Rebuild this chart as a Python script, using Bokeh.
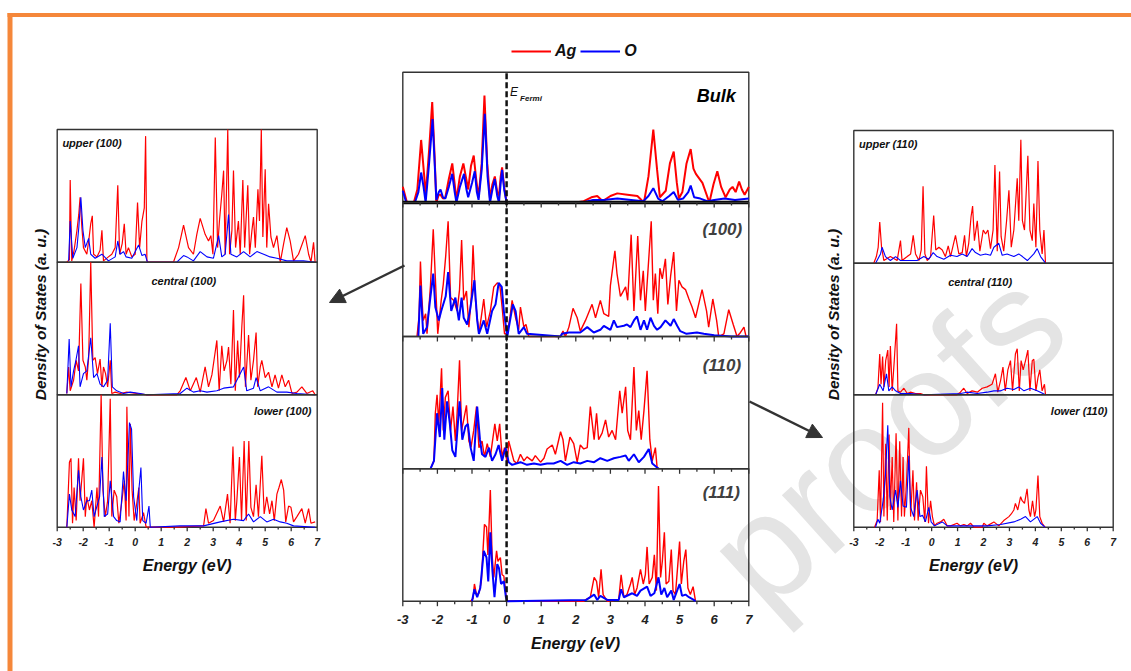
from bokeh.plotting import figure
from bokeh.models import Range1d, Arrow, NormalHead, Label, Legend, LegendItem, BoxAnnotation
from bokeh.core.properties import value
from bokeh.embed import file_html
from bokeh.resources import INLINE

# ---------------- data (energy in eV, DOS in arbitrary units 0-100) ----------------
E_TICKS = [-3, -2, -1, 0, 1, 2, 3, 4, 5, 6, 7]
E_TICK_LABELS = ["-3", "-2", "-1", "0", "1", "2", "3", "4", "5", "6", "7"]
E_MINOR = [-2.5, -1.5, -0.5, 0.5, 1.5, 2.5, 3.5, 4.5, 5.5, 6.5]
SERIES = ["Ag", "O"]

BULK_AG = [(-3.0,12),(-2.88,0),(-2.68,0),(-2.58,10),(-2.47,48),(-2.38,20),(-2.34,5),(-2.24,40),(-2.15,77),(-2.08,35),(-2.03,0),(-1.96,6),(-1.91,6),(-1.84,3),(-1.77,4),(-1.67,18),(-1.57,30),(-1.5,14),(-1.45,2),(-1.35,20),(-1.25,30),(-1.18,20),(-1.11,10),(-1.03,28),(-0.95,36),(-0.88,18),(-0.81,4),(-0.72,30),(-0.64,82),(-0.56,30),(-0.48,3),(-0.41,14),(-0.34,20),(-0.27,8),(-0.22,5),(-0.17,20),(-0.13,27),(-0.07,12),(0.0,0),(2.0,0),(2.23,1),(2.45,4),(2.62,5),(2.78,1),(3.0,5),(3.2,7),(3.49,6),(3.78,5),(3.97,0),(4.1,20),(4.24,56),(4.35,25),(4.43,4),(4.6,9),(4.72,30),(4.83,39),(4.92,15),(4.98,3),(5.08,8),(5.2,30),(5.32,41),(5.4,26),(5.47,22),(5.66,15),(5.86,0),(5.98,14),(6.09,24),(6.2,12),(6.33,4),(6.45,10),(6.53,12),(6.62,8),(6.72,16),(6.8,10),(6.88,6),(7.0,12)]
BULK_O = [(-3.0,9),(-2.9,0),(-2.65,0),(-2.55,8),(-2.47,23),(-2.4,12),(-2.34,0),(-2.24,30),(-2.14,64),(-2.07,25),(-2.03,2),(-1.96,8),(-1.91,10),(-1.84,4),(-1.77,3),(-1.67,12),(-1.57,22),(-1.5,8),(-1.45,0),(-1.35,12),(-1.23,22),(-1.16,10),(-1.11,4),(-1.0,15),(-0.92,24),(-0.86,8),(-0.81,2),(-0.72,25),(-0.63,68),(-0.55,20),(-0.48,0),(-0.41,10),(-0.34,18),(-0.27,5),(-0.22,0),(-0.17,15),(-0.13,25),(-0.07,10),(0.0,0),(2.2,0),(2.5,2),(2.8,2),(3.2,3),(3.6,2),(3.95,1),(4.1,5),(4.24,11),(4.38,3),(4.5,1),(4.7,5),(4.83,8),(4.95,2),(5.1,3),(5.25,8),(5.32,13),(5.42,4),(5.6,3),(5.8,1),(6.0,2),(6.3,3),(6.6,2),(7.0,3)]

C100_AG = [(-2.59,0),(-2.53,15),(-2.49,56),(-2.45,30),(-2.41,12),(-2.34,17),(-2.3,2),(-2.25,20),(-2.2,38),(-2.12,80),(-2.06,44),(-1.99,2),(-1.89,27),(-1.83,39),(-1.76,60),(-1.69,86),(-1.62,29),(-1.53,27),(-1.43,19),(-1.36,35),(-1.3,72),(-1.24,27),(-1.16,34),(-1.09,7),(-1.02,30),(-0.97,68),(-0.9,27),(-0.8,2),(-0.66,28),(-0.58,7),(-0.47,19),(-0.37,37),(-0.27,40),(-0.2,39),(-0.13,22),(-0.06,2),(0.02,2),(0.1,15),(0.16,27),(0.26,14),(0.35,5),(0.4,22),(0.5,7),(0.56,9),(0.64,0),(1.56,0),(1.63,4),(1.7,0),(1.8,7),(1.92,21),(2.04,14),(2.13,4),(2.28,12),(2.47,24),(2.57,14),(2.71,27),(2.81,17),(2.95,15),(3.0,38),(3.13,64),(3.19,47),(3.29,30),(3.44,37),(3.5,27),(3.6,76),(3.68,19),(3.79,75),(3.87,27),(3.95,49),(4.01,19),(4.06,39),(4.18,86),(4.24,27),(4.3,47),(4.37,17),(4.43,51),(4.5,43),(4.59,58),(4.66,24),(4.74,45),(4.83,63),(4.91,19),(4.98,42),(5.07,37),(5.17,35),(5.27,28),(5.36,22),(5.46,14),(5.65,35),(5.78,19),(5.84,7),(5.96,28),(6.07,12),(6.13,0),(6.28,2),(6.42,20),(6.55,9),(6.66,0),(6.76,3),(6.86,7),(6.92,0)]
C100_O = [(-2.55,0),(-2.49,38),(-2.41,2),(-2.3,7),(-2.2,30),(-2.12,47),(-2.06,22),(-1.96,12),(-1.89,19),(-1.76,30),(-1.69,48),(-1.6,19),(-1.48,29),(-1.38,12),(-1.3,29),(-1.24,14),(-1.14,9),(-1.06,19),(-0.93,42),(-0.85,12),(-0.8,2),(-0.66,12),(-0.56,2),(-0.42,19),(-0.32,24),(-0.23,40),(-0.14,37),(-0.08,19),(0.02,0),(0.18,24),(0.26,19),(0.35,2),(0.5,7),(0.59,2),(1.56,0),(1.6,2),(1.8,3),(2.13,3),(2.33,7),(2.52,3),(2.71,5),(2.81,8),(3.0,5),(3.1,12),(3.19,7),(3.39,8),(3.48,9),(3.58,7),(3.68,12),(3.77,15),(3.87,5),(3.97,12),(4.06,5),(4.16,14),(4.26,8),(4.35,5),(4.45,7),(4.59,12),(4.74,8),(4.83,13),(4.93,8),(5.02,4),(5.2,2),(5.5,3),(5.7,2),(6.0,1),(6.5,0),(7.0,0)]

C110_AG = [(-2.2,0),(-2.1,6),(-2.06,42),(-2.01,56),(-1.96,34),(-1.88,76),(-1.83,29),(-1.77,54),(-1.69,59),(-1.62,29),(-1.55,47),(-1.48,21),(-1.43,42),(-1.36,82),(-1.3,29),(-1.24,37),(-1.16,48),(-1.09,21),(-1.03,16),(-0.95,29),(-0.87,47),(-0.8,16),(-0.71,21),(-0.64,9),(-0.56,19),(-0.47,9),(-0.34,34),(-0.27,21),(-0.2,34),(-0.13,9),(-0.06,16),(0.02,4),(0.06,21),(0.13,14),(0.21,6),(0.3,4),(0.4,11),(0.5,6),(0.59,9),(0.74,6),(0.83,10),(0.98,5),(1.08,8),(1.17,15),(1.32,18),(1.41,11),(1.56,28),(1.63,22),(1.7,6),(1.83,24),(1.94,19),(2.04,5),(2.13,18),(2.23,15),(2.33,16),(2.42,47),(2.53,22),(2.6,42),(2.66,22),(2.76,27),(2.86,37),(2.95,24),(3.05,29),(3.15,22),(3.27,59),(3.34,42),(3.44,62),(3.5,29),(3.58,22),(3.68,77),(3.75,29),(3.82,44),(3.89,22),(3.97,44),(4.06,74),(4.14,22),(4.21,6),(4.3,16),(4.35,1),(4.4,0)]
C110_O = [(-2.2,0),(-2.1,6),(-2.01,42),(-1.93,24),(-1.86,61),(-1.8,22),(-1.72,51),(-1.64,34),(-1.57,14),(-1.48,9),(-1.36,51),(-1.28,22),(-1.19,32),(-1.12,34),(-1.04,16),(-0.95,6),(-0.85,47),(-0.77,22),(-0.71,11),(-0.61,9),(-0.51,16),(-0.42,6),(-0.32,11),(-0.23,18),(-0.13,6),(-0.03,16),(0.06,5),(0.16,3),(0.4,5),(0.59,3),(0.79,4),(0.98,3),(1.17,4),(1.36,4),(1.56,6),(1.75,3),(1.94,5),(2.13,4),(2.33,6),(2.53,5),(2.71,8),(2.91,6),(3.1,8),(3.29,9),(3.44,10),(3.53,6),(3.68,11),(3.82,5),(3.97,9),(4.11,15),(4.21,4),(4.35,1),(4.4,0)]

C111_AG = [(-1.04,0),(-0.97,2),(-0.93,13),(-0.87,5),(-0.8,6),(-0.73,15),(-0.64,58),(-0.58,56),(-0.54,35),(-0.47,84),(-0.42,35),(-0.37,18),(-0.29,38),(-0.25,30),(-0.18,33),(-0.13,20),(-0.08,19),(-0.02,5),(0.02,0),(2.23,0),(2.28,1),(2.42,3),(2.53,18),(2.6,15),(2.66,3),(2.73,24),(2.79,5),(2.91,0),(3.24,1),(3.31,20),(3.39,3),(3.48,5),(3.58,13),(3.63,18),(3.7,5),(3.77,10),(3.87,24),(3.95,13),(4.01,20),(4.06,41),(4.12,13),(4.21,18),(4.27,35),(4.33,8),(4.39,87),(4.45,18),(4.5,30),(4.56,52),(4.61,13),(4.69,15),(4.76,39),(4.81,8),(4.88,5),(5.0,45),(5.05,13),(5.12,30),(5.18,39),(5.24,10),(5.31,5),(5.39,11),(5.46,0)]
C111_O = [(-1.0,0),(-0.93,9),(-0.85,3),(-0.76,10),(-0.66,38),(-0.58,33),(-0.53,15),(-0.47,52),(-0.41,23),(-0.35,3),(-0.27,28),(-0.22,25),(-0.16,13),(-0.08,15),(-0.02,3),(0.02,0),(2.3,1),(2.53,5),(2.62,1),(2.71,4),(2.91,1),(3.24,1),(3.31,9),(3.39,3),(3.63,6),(3.77,4),(3.87,8),(4.06,11),(4.16,4),(4.27,6),(4.39,18),(4.47,5),(4.56,10),(4.64,3),(4.76,8),(4.83,1),(5.0,13),(5.07,4),(5.17,5),(5.27,3),(5.41,1),(5.46,0)]

UP100_AG = [(-2.63,0),(-2.53,2),(-2.5,62),(-2.44,1),(-2.35,9),(-2.24,24),(-2.17,36),(-2.12,49),(-2.05,26),(-1.99,11),(-1.86,6),(-1.77,19),(-1.71,29),(-1.65,35),(-1.6,6),(-1.47,4),(-1.35,9),(-1.28,24),(-1.22,1),(-1.03,4),(-0.9,6),(-0.77,11),(-0.67,58),(-0.6,6),(-0.5,14),(-0.42,29),(-0.35,6),(-0.26,11),(-0.13,4),(0.0,6),(0.09,45),(0.17,11),(0.26,31),(0.35,41),(0.4,95),(0.45,1),(0.51,0),(1.47,0),(1.67,11),(1.86,28),(2.05,11),(2.24,6),(2.37,21),(2.5,33),(2.69,21),(2.82,16),(2.91,20),(2.99,6),(3.08,94),(3.17,11),(3.24,31),(3.33,51),(3.4,69),(3.46,6),(3.56,100),(3.63,6),(3.72,24),(3.78,69),(3.86,11),(3.97,31),(4.04,6),(4.14,62),(4.21,11),(4.33,58),(4.4,6),(4.49,24),(4.55,34),(4.62,11),(4.72,55),(4.78,31),(4.85,100),(4.91,19),(5.0,70),(5.06,11),(5.13,44),(5.22,19),(5.32,11),(5.45,20),(5.58,0),(5.71,14),(5.83,26),(5.96,16),(6.09,1),(6.28,6),(6.54,20),(6.67,6),(6.76,0),(6.86,15),(6.92,0)]
UP100_O = [(-2.56,1),(-2.5,31),(-2.4,3),(-2.24,11),(-2.17,26),(-2.09,49),(-2.01,24),(-1.92,11),(-1.79,18),(-1.71,6),(-1.54,3),(-1.28,6),(-1.03,1),(-0.77,4),(-0.67,16),(-0.58,6),(-0.45,8),(-0.35,4),(-0.13,3),(0.13,13),(0.26,5),(0.38,6),(0.47,0),(1.6,0),(1.86,5),(1.99,4),(2.24,1),(2.5,8),(2.76,4),(3.01,3),(3.21,20),(3.33,4),(3.46,6),(3.59,36),(3.68,6),(3.91,4),(4.17,8),(4.42,4),(4.68,8),(4.94,6),(5.19,4),(5.45,3),(5.83,1),(6.47,1),(6.92,0)]

CE100_AG = [(-2.63,1),(-2.56,21),(-2.5,3),(-2.37,11),(-2.27,26),(-2.18,18),(-2.09,84),(-2.01,26),(-1.92,21),(-1.86,11),(-1.79,28),(-1.71,100),(-1.63,26),(-1.54,28),(-1.45,16),(-1.35,27),(-1.28,6),(-1.22,21),(-1.14,16),(-1.06,6),(-0.96,26),(-0.9,1),(-0.77,2),(-0.58,1),(-0.32,2),(0.06,1),(0.45,0),(1.6,0),(1.73,3),(1.95,13),(2.12,3),(2.35,13),(2.5,2),(2.69,21),(2.82,6),(2.95,15),(3.14,41),(3.23,3),(3.33,37),(3.42,18),(3.53,26),(3.59,36),(3.68,8),(3.78,64),(3.85,3),(3.94,41),(4.01,13),(4.1,51),(4.17,75),(4.24,6),(4.36,45),(4.45,11),(4.55,26),(4.65,47),(4.71,6),(4.81,21),(4.87,26),(5.0,13),(5.13,17),(5.26,6),(5.38,15),(5.51,5),(5.64,15),(5.77,6),(5.9,11),(6.03,1),(6.22,2),(6.41,6),(6.6,1),(6.83,3),(6.92,0)]
CE100_O = [(-2.63,1),(-2.54,42),(-2.47,6),(-2.37,18),(-2.28,26),(-2.18,37),(-2.12,6),(-1.99,16),(-1.86,18),(-1.71,43),(-1.6,13),(-1.47,16),(-1.35,8),(-1.22,6),(-1.06,11),(-0.96,54),(-0.88,6),(-0.71,3),(-0.45,1),(-0.19,2),(0.19,1),(0.45,0),(1.73,1),(1.99,5),(2.24,2),(2.5,3),(2.76,2),(3.14,3),(3.4,5),(3.78,6),(4.17,21),(4.29,3),(4.55,5),(4.65,13),(4.81,3),(5.13,6),(5.45,2),(5.83,2),(6.22,1),(6.92,0)]

LO100_AG = [(-2.63,0),(-2.53,49),(-2.47,52),(-2.41,3),(-2.35,30),(-2.27,5),(-2.18,52),(-2.12,20),(-1.99,52),(-1.92,8),(-1.86,23),(-1.76,13),(-1.67,20),(-1.58,0),(-1.47,30),(-1.41,8),(-1.31,100),(-1.24,28),(-1.15,8),(-1.06,20),(-0.96,97),(-0.9,8),(-0.81,28),(-0.71,23),(-0.63,3),(-0.51,20),(-0.42,35),(-0.35,5),(-0.32,91),(-0.24,8),(-0.19,78),(-0.12,28),(-0.04,5),(0.06,18),(0.14,30),(0.19,3),(0.32,11),(0.42,0),(1.6,0),(2.63,1),(2.72,14),(2.82,3),(3.01,5),(3.27,16),(3.4,4),(3.55,25),(3.65,3),(3.76,61),(3.85,5),(3.91,20),(4.01,53),(4.09,5),(4.19,65),(4.27,5),(4.37,65),(4.45,15),(4.55,8),(4.65,32),(4.74,8),(4.87,54),(4.96,10),(5.06,23),(5.17,10),(5.26,20),(5.35,5),(5.45,25),(5.53,30),(5.62,36),(5.71,28),(5.79,4),(5.9,16),(5.99,15),(6.09,4),(6.22,8),(6.41,14),(6.54,3),(6.67,14),(6.76,3),(6.92,4)]
LO100_O = [(-2.63,0),(-2.53,25),(-2.44,13),(-2.31,8),(-2.18,43),(-2.09,23),(-1.99,13),(-1.86,20),(-1.76,20),(-1.67,28),(-1.58,8),(-1.47,16),(-1.37,23),(-1.28,53),(-1.19,8),(-1.06,10),(-0.96,35),(-0.83,8),(-0.71,5),(-0.58,4),(-0.45,42),(-0.35,20),(-0.22,79),(-0.14,74),(-0.06,23),(0.06,5),(0.14,28),(0.22,45),(0.29,5),(0.42,3),(0.53,16),(0.58,0),(1.73,1),(1.99,1),(2.63,1),(3.27,4),(3.78,6),(4.17,5),(4.36,10),(4.55,4),(4.81,8),(5.06,4),(5.32,6),(5.58,4),(5.83,3),(6.09,1),(6.92,0)]

UP110_AG = [(-2.23,0),(-2.13,5),(-2.06,12),(-2.0,31),(-1.93,12),(-1.84,2),(-1.59,5),(-1.33,2),(-1.2,17),(-1.14,2),(-0.94,5),(-0.81,7),(-0.71,21),(-0.62,7),(-0.49,2),(-0.4,10),(-0.33,58),(-0.26,7),(-0.17,2),(-0.04,5),(0.08,36),(0.16,10),(0.28,12),(0.41,10),(0.53,5),(0.64,13),(0.73,5),(0.92,21),(1.05,7),(1.18,8),(1.27,21),(1.34,5),(1.43,15),(1.52,35),(1.58,43),(1.65,17),(1.76,32),(1.86,9),(1.99,25),(2.08,22),(2.17,25),(2.27,11),(2.37,25),(2.44,74),(2.53,9),(2.62,69),(2.68,20),(2.78,9),(2.89,32),(2.98,55),(3.07,12),(3.17,25),(3.3,64),(3.36,32),(3.44,93),(3.5,32),(3.58,25),(3.71,81),(3.79,25),(3.88,17),(3.94,45),(4.02,12),(4.1,77),(4.17,25),(4.26,7),(4.33,25),(4.39,0)]
UP110_O = [(-2.16,0),(-1.97,7),(-1.91,12),(-1.78,5),(-1.59,2),(-1.39,5),(-1.2,2),(-0.81,2),(-0.56,2),(-0.3,5),(-0.11,3),(0.06,8),(0.21,5),(0.47,3),(0.73,6),(0.98,5),(1.18,7),(1.37,5),(1.56,11),(1.69,8),(1.88,6),(2.08,7),(2.27,6),(2.4,12),(2.59,15),(2.72,6),(2.91,7),(3.17,5),(3.36,7),(3.5,5),(3.69,2),(3.94,7),(4.07,11),(4.2,5),(4.39,0)]

CE110_AG = [(-2.16,0),(-2.07,5),(-2.0,31),(-1.95,8),(-1.89,29),(-1.84,6),(-1.77,26),(-1.69,34),(-1.64,6),(-1.59,37),(-1.52,3),(-1.44,26),(-1.35,54),(-1.3,3),(-1.2,2),(-1.07,5),(-0.94,1),(-0.81,2),(-0.62,1),(-0.43,1),(-0.3,0),(0.98,0),(1.11,2),(1.24,5),(1.37,1),(1.56,3),(1.76,2),(1.95,5),(2.14,6),(2.33,8),(2.46,16),(2.55,2),(2.66,11),(2.75,21),(2.84,3),(2.94,19),(3.04,26),(3.12,3),(3.23,31),(3.3,35),(3.38,3),(3.45,26),(3.53,19),(3.62,26),(3.71,34),(3.79,3),(3.88,26),(3.94,27),(4.02,3),(4.1,13),(4.17,19),(4.26,3),(4.35,8),(4.39,0)]
CE110_O = [(-2.16,0),(-2.0,8),(-1.87,3),(-1.74,16),(-1.65,3),(-1.52,6),(-1.39,3),(-1.2,1),(-0.81,1),(-0.3,0),(1.11,1),(1.37,2),(1.76,1),(2.14,2),(2.4,3),(2.66,3),(2.91,5),(3.17,4),(3.36,6),(3.56,3),(3.81,5),(4.07,3),(4.39,0)]

LO110_AG = [(-2.2,0),(-2.1,5),(-2.02,43),(-1.97,4),(-1.89,94),(-1.84,8),(-1.77,63),(-1.71,5),(-1.64,70),(-1.59,13),(-1.52,53),(-1.46,4),(-1.37,71),(-1.3,5),(-1.23,65),(-1.16,8),(-1.1,53),(-1.05,8),(-0.97,33),(-0.88,75),(-0.81,8),(-0.72,43),(-0.66,5),(-0.58,34),(-0.52,5),(-0.43,28),(-0.34,23),(-0.26,4),(-0.2,46),(-0.12,3),(-0.04,20),(0.03,8),(0.11,1),(0.21,3),(0.34,4),(0.47,6),(0.6,1),(0.73,1),(0.98,3),(1.11,1),(1.24,2),(1.37,1),(1.5,3),(1.63,0),(1.95,0),(2.01,3),(2.14,1),(2.4,4),(2.59,1),(2.78,5),(2.98,8),(3.07,10),(3.17,13),(3.23,18),(3.32,13),(3.43,23),(3.49,20),(3.58,18),(3.68,29),(3.75,13),(3.81,8),(3.89,20),(3.97,8),(4.02,13),(4.1,39),(4.17,8),(4.26,3),(4.37,0)]
LO110_O = [(-2.16,0),(-2.07,6),(-2.0,3),(-1.87,20),(-1.78,39),(-1.69,77),(-1.61,23),(-1.52,13),(-1.39,28),(-1.3,15),(-1.2,35),(-1.1,16),(-0.97,15),(-0.88,54),(-0.81,15),(-0.69,8),(-0.56,28),(-0.45,8),(-0.35,9),(-0.24,4),(-0.11,15),(-0.02,4),(0.11,1),(0.41,4),(0.6,1),(1.11,1),(1.63,1),(2.14,1),(2.66,2),(3.17,4),(3.43,6),(3.62,8),(3.81,4),(4.07,8),(4.2,3),(4.37,0)]

# ---------------- styling / layout ----------------
RED, BLUE = "#ff0000", "#0000ff"
FRAME = "#333333"
FONT = value("Liberation Sans")
W, H = 1131, 671

p = figure(width=W, height=H, x_range=Range1d(0, W), y_range=Range1d(H, 0),
           output_backend="svg", toolbar_location=None, min_border=0,
           x_axis_location=None, y_axis_location=None)
p.xgrid.visible = False
p.ygrid.visible = False
p.outline_line_color = None
p.background_fill_color = "white"
p.border_fill_color = "white"

# watermark
p.add_layout(Label(x=885, y=438, text="proofs", angle=42, angle_units="deg",
                   text_font="Liberation Sans", text_font_size="150px",
                   text_color="#e4e4e4", text_align="center", text_baseline="middle",
                   level="underlay"))

# orange page border
p.add_layout(BoxAnnotation(left=7, right=W, top=12.5, bottom=16.5, fill_color="#f5873a",
                           fill_alpha=1, line_color=None, level="underlay"))
p.add_layout(BoxAnnotation(left=7, right=12, top=12.5, bottom=H, fill_color="#f5873a",
                           fill_alpha=1, line_color=None, level="underlay"))


def sub(x0, x1, ybot, ytop, ys=(0, 100)):
    return p.subplot(x_source=Range1d(-3, 7), y_source=Range1d(*ys),
                     x_target=Range1d(x0, x1), y_target=Range1d(ybot, ytop))


def draw_curves(sp, ag, o, lw_ag, lw_o):
    r1 = sp.line([e for e, _ in ag], [v for _, v in ag], line_color=RED, line_width=lw_ag)
    r2 = sp.line([e for e, _ in o], [v for _, v in o], line_color=BLUE, line_width=lw_o)
    return r1, r2


def frame(sp, lw=1.4):
    sp.quad(left=-3, right=7, bottom=0, top=100, fill_color=None, line_color=FRAME, line_width=lw)


def ticks(x0, x1, ybot, size=5):
    tk = sub(x0, x1, ybot, ybot + size, ys=(0, 1))
    tk.segment(x0=E_TICKS, y0=[0] * len(E_TICKS), x1=E_TICKS, y1=[1] * len(E_TICKS),
               line_color=FRAME, line_width=1.3)
    tk.segment(x0=E_MINOR, y0=[0] * len(E_MINOR), x1=E_MINOR, y1=[0.6] * len(E_MINOR),
               line_color=FRAME, line_width=1.3)


def tick_labels(x0, x1, ylab, size):
    tl = sub(x0, x1, ylab, ylab + 1, ys=(0, 1))
    tl.text(x=E_TICKS, y=[0] * len(E_TICKS), text=E_TICK_LABELS, text_font=FONT,
            text_font_style="bold italic", text_font_size=size, text_color="#222222",
            text_align="center", text_baseline="middle")


def panel_label(sp, x, y, txt, align, size, color="#111111"):
    sp.text(x=[x], y=[y], text=[txt], text_font=FONT, text_font_style="bold italic",
            text_font_size=size, text_color=color, text_align=align, text_baseline="middle")


# ---- centre column ----
CX0, CX1 = 402.3, 748.3
c_rows = [(71.7, 202.0), (202.0, 336.0), (336.0, 468.3), (468.3, 600.7)]
c_data = [(BULK_AG, BULK_O), (C100_AG, C100_O), (C110_AG, C110_O), (C111_AG, C111_O)]
c_labels = [("Bulk", 6.62, 82, "#000000", "18px"), ("(100)", 6.81, 80, "#404040", "17px"),
            ("(110)", 6.78, 78, "#404040", "17px"), ("(111)", 6.74, 82, "#404040", "17px")]
legend_r = None
for i, ((yt, yb), (ag, o), lab) in enumerate(zip(c_rows, c_data, c_labels)):
    sp = sub(CX0, CX1, yb, yt)
    frame(sp)
    if i == 0:
        r1, r2 = draw_curves(sp, ag, o, 2.0, 2.0)
        sp.segment(x0=[-3], y0=[0], x1=[7], y1=[0], line_color="#000000", line_width=3.5)
        legend_r = (r1, r2)
        sp.text(x=[0.1], y=[85], text=["E"], text_font=FONT, text_font_style="italic",
                text_font_size="12px", text_color="#111111", text_align="left",
                text_baseline="middle")
        sp.text(x=[0.39], y=[80], text=["Fermi"], text_font=FONT, text_font_style="bold italic",
                text_font_size="8px", text_color="#111111", text_align="left",
                text_baseline="middle")
    else:
        draw_curves(sp, ag, o, 1.4, 2.0)
    panel_label(sp, lab[1], lab[2], lab[0], "right", lab[4], lab[3])
    ticks(CX0, CX1, yb)

# Fermi level dashed line across the centre column
fl = sub(CX0, CX1, 600.7, 71.7, ys=(0, 1))
fl.segment(x0=[0], y0=[0], x1=[0], y1=[1], line_color="#111111", line_width=2.5, line_dash="6 3")
tick_labels(CX0, CX1, 619, "13px")

# ---- left and right columns ----
side = [
    (56.7, 316.7, [(129.0, 261.7), (261.7, 394.3), (394.3, 526.7)],
     [(UP100_AG, UP100_O), (CE100_AG, CE100_O), (LO100_AG, LO100_O)],
     ["upper (100)", "central (100)", "lower (100)"]),
    (853.3, 1112.7, [(130.0, 262.7), (262.7, 394.3), (394.3, 526.7)],
     [(UP110_AG, UP110_O), (CE110_AG, CE110_O), (LO110_AG, LO110_O)],
     ["upper (110)", "central (110)", "lower (110)"]),
]
for x0, x1, rows, data, labels in side:
    for j, ((yt, yb), (ag, o), lab) in enumerate(zip(rows, data, labels)):
        sp = sub(x0, x1, yb, yt)
        frame(sp)
        draw_curves(sp, ag, o, 1.2, 1.1)
        if j == 0:
            panel_label(sp, -2.8, 90, lab, "left", "11px")
        elif j == 1:
            panel_label(sp, 1.87, 85.5, lab, "center", "11px")
        else:
            panel_label(sp, 6.78, 88, lab, "right", "11px")
    ticks(x0, x1, rows[-1][1], 4)
    tick_labels(x0, x1, 541, "10.5px")

# ---- axis titles ----
for (x, y) in [(186.7, 565), (575, 643), (973, 565)]:
    p.add_layout(Label(x=x, y=y, text="Energy (eV)", text_font="Liberation Sans",
                       text_font_style="bold italic", text_font_size="16px",
                       text_color="#111111", text_align="center", text_baseline="middle"))
for x in [40, 833]:
    p.add_layout(Label(x=x, y=314, text="Density of States (a. u.)", angle=90, angle_units="deg",
                       text_font="Liberation Sans", text_font_style="bold italic",
                       text_font_size="15.5px", text_color="#111111", text_align="center",
                       text_baseline="middle"))

# ---- arrows ----
for xs, ys, xe, ye in [(404, 265, 329, 302), (749, 401, 822, 437)]:
    p.add_layout(Arrow(x_start=xs, y_start=ys, x_end=xe, y_end=ye, line_color="#333333",
                       line_width=2.5,
                       end=NormalHead(size=15, fill_color="#333333", line_color="#333333")))

# ---- legend ----
legend = Legend(items=[LegendItem(label=SERIES[0], renderers=[legend_r[0]]),
                       LegendItem(label=SERIES[1], renderers=[legend_r[1]])],
                orientation="horizontal", location=(511, 611), glyph_width=40, glyph_height=14,
                label_standoff=4, spacing=4, padding=0, margin=0,
                border_line_color=None, background_fill_alpha=0,
                label_text_font="Liberation Sans", label_text_font_style="bold italic",
                label_text_font_size="16px", label_text_color="#111111")
p.add_layout(legend)

open("out.html", "w").write(file_html(p, INLINE))
